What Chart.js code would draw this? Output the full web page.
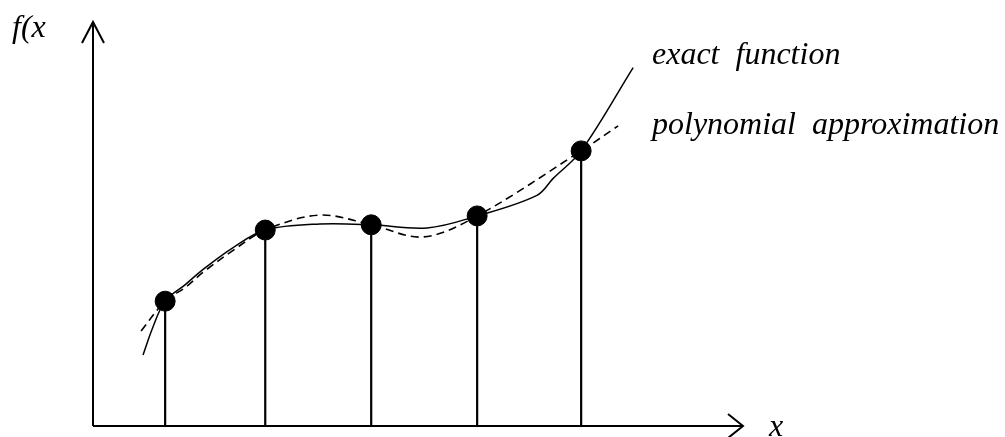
<!DOCTYPE html>
<html>
<head>
<meta charset="utf-8">
<script src="https://cdn.jsdelivr.net/npm/chart.js@4.4.1/dist/chart.umd.min.js"></script>
<style>
  html, body { margin: 0; padding: 0; background: #ffffff; }
  #c { display: block; }
</style>
</head>
<body>
<canvas id="c" width="1005" height="437"></canvas>
<script>
// Interpolation nodes (sample points)
const nodeX = [1.11, 2.65, 4.28, 5.91, 7.51];
const nodeY = [3.09, 4.85, 4.98, 5.20, 6.81];

// Exact function (solid curve)
const exactX = [0.77, 0.92, 1.11, 1.42, 1.69, 2.15, 2.65, 3.49, 4.28, 5.14, 5.91, 6.83, 7.08, 7.51, 8.31];
const exactY = [1.76, 2.44, 3.09, 3.50, 3.87, 4.41, 4.85, 5.00, 4.98, 4.90, 5.20, 5.71, 6.13, 6.81, 8.87];

// Polynomial approximation (dashed curve)
const approxX = [0.74, 1.11, 1.42, 1.69, 2.15, 2.65, 3.49, 4.28, 5.08, 5.91, 7.51, 8.08];
const approxY = [2.35, 3.09, 3.43, 3.80, 4.34, 4.85, 5.22, 4.98, 4.68, 5.20, 6.81, 7.43];

// Axis range
const xRange = [0, 10];
const yRange = [0, 10];

// Labels
const yAxisLabel = "f(x";
const xAxisLabel = "x";
const legendExact = "exact  function";
const legendApprox = "polynomial  approximation";

const pts = (xs, ys) => xs.map((x, i) => ({ x: x, y: ys[i] }));
const stems = [];
nodeX.forEach((x, i) => {
  stems.push({ x: x, y: yRange[0] }, { x: x, y: nodeY[i] }, { x: x, y: null });
});

const FONT = "italic 32px 'Liberation Serif', 'Times New Roman', serif";

const decor = {
  id: 'decor',
  beforeDatasetsDraw(chart) {
    const ctx = chart.ctx;
    const xs = chart.scales.x, ys = chart.scales.y;
    const ox = xs.getPixelForValue(xRange[0]);
    const oy = ys.getPixelForValue(yRange[0]);
    const tx = xs.getPixelForValue(xRange[1]);
    const ty = ys.getPixelForValue(yRange[1]);
    ctx.save();
    ctx.strokeStyle = '#000';
    ctx.lineWidth = 2;
    ctx.lineCap = 'butt';
    ctx.beginPath();
    ctx.moveTo(ox, oy); ctx.lineTo(tx, oy);
    ctx.moveTo(ox, oy); ctx.lineTo(ox, ty);
    ctx.stroke();
    // arrowheads
    ctx.beginPath();
    ctx.moveTo(ox - 11, ty + 21); ctx.lineTo(ox, ty); ctx.lineTo(ox + 11, ty + 21);
    ctx.moveTo(tx - 15, oy - 12); ctx.lineTo(tx, oy); ctx.lineTo(tx - 15, oy + 12);
    ctx.stroke();
    ctx.restore();
  },
  afterDraw(chart) {
    const ctx = chart.ctx;
    const xs = chart.scales.x, ys = chart.scales.y;
    const ox = xs.getPixelForValue(xRange[0]);
    const oy = ys.getPixelForValue(yRange[0]);
    const tx = xs.getPixelForValue(xRange[1]);
    ctx.save();
    ctx.fillStyle = '#000';
    ctx.textBaseline = 'alphabetic';
    ctx.textAlign = 'left';
    ctx.font = FONT;
    ctx.fillText(yAxisLabel, ox - 81, 37);
    ctx.fillText(xAxisLabel, tx + 26, oy + 10);
    ctx.fillText(legendExact, 652, 64);
    ctx.fillText(legendApprox, 652, 134);
    ctx.restore();
  }
};

new Chart(document.getElementById('c'), {
  type: 'scatter',
  data: {
    datasets: [
      {
        label: 'stems',
        data: stems,
        showLine: true,
        spanGaps: false,
        borderColor: '#000',
        borderWidth: 2.2,
        pointRadius: 0,
        tension: 0,
        order: 4
      },
      {
        label: 'exact function',
        data: pts(exactX, exactY),
        showLine: true,
        borderColor: '#000',
        borderWidth: 1.5,
        pointRadius: 0,
        tension: 0.35,
        order: 3
      },
      {
        label: 'polynomial approximation',
        data: pts(approxX, approxY),
        showLine: true,
        borderColor: '#000',
        borderWidth: 1.6,
        borderDash: [8, 5],
        pointRadius: 0,
        tension: 0.35,
        order: 2
      },
      {
        label: 'nodes',
        data: pts(nodeX, nodeY),
        showLine: false,
        backgroundColor: '#000',
        borderColor: '#000',
        pointRadius: 10,
        pointHoverRadius: 10,
        order: 1
      }
    ]
  },
  options: {
    responsive: false,
    animation: false,
    devicePixelRatio: 1,
    layout: { padding: { left: 93, right: 262, top: 22, bottom: 8 } },
    plugins: { legend: { display: false }, tooltip: { enabled: false } },
    scales: {
      x: { type: 'linear', min: xRange[0], max: xRange[1], display: false },
      y: { type: 'linear', min: yRange[0], max: yRange[1], display: false }
    }
  },
  plugins: [decor]
});
</script>
</body>
</html>
